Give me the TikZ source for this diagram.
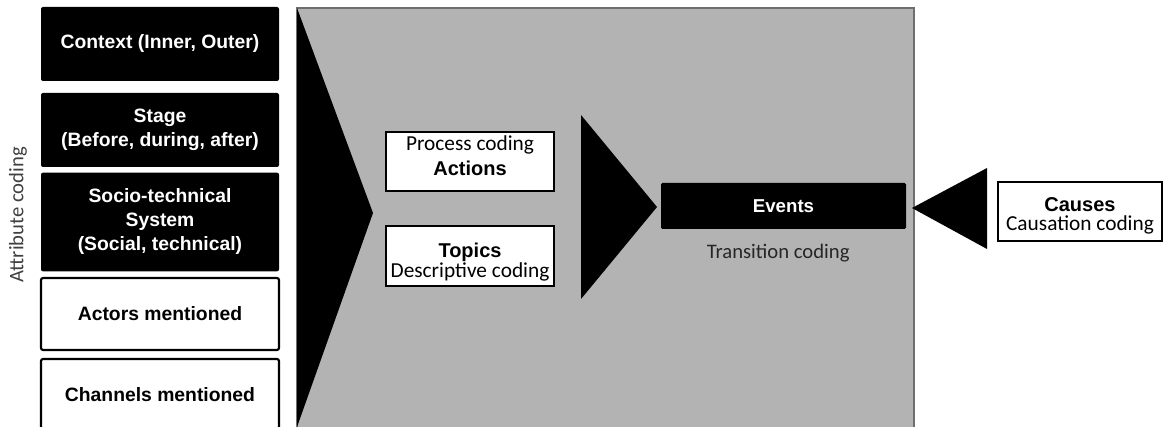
\documentclass[tikz,border=0pt]{standalone}
\usepackage{fontspec}
\setmainfont{Liberation Sans}
\newfontfamily\lightfont{Carlito}
\usetikzlibrary{positioning}
\definecolor{panelgray}{HTML}{B3B3B3}
\definecolor{framegray}{HTML}{6E6E6E}
\definecolor{labelgray}{HTML}{404040}

\begin{document}
\begin{tikzpicture}[x=0.75pt, y=-0.75pt,
    attrbox/.style={rectangle, rounded corners=1.5pt, fill=black, text=white, align=center,
        minimum width=178.5pt, font=\fontsize{14.5}{18}\selectfont\bfseries, inner sep=0pt},
    attrwhite/.style={attrbox, fill=white, text=black, draw=black, line width=1.6pt},
    codebox/.style={rectangle, draw=black, fill=white, line width=1.4pt, inner sep=0pt},
    codetext/.style={align=center, inner sep=0pt, font=\fontsize{15}{18}\selectfont},
    lightlbl/.style={font=\fontsize{15.5}{18}\selectfont\lightfont, text=labelgray, inner sep=0pt}]
    \useasboundingbox (0,0) rectangle (1174,427);

    % Coding panel
    \draw[fill=panelgray, draw=framegray, line width=1.3pt] (297,8) rectangle (914,445);
    \fill[black] (297,8) -- (373,213) -- (297,427) -- cycle;

    % Attribute boxes
    \node[attrbox, minimum height=55.5pt] (context) at (160,44) {Context (Inner, Outer)};
    \node[attrbox, minimum height=55.5pt] (stage) at (160,130) {Stage\\(Before, during, after)};
    \node[attrbox, minimum height=74pt] (socio) at (160,222) {Socio-technical\\System\\(Social, technical)};
    \node[attrwhite, minimum height=54pt] (actors) at (160,314) {Actors mentioned};
    \node[attrwhite, minimum height=54pt] (channels) at (160,395) {Channels mentioned};
    \node[lightlbl, rotate=90] (attrlbl) at (18,215) {Attribute coding};

    % Process and topics
    \node[codebox, minimum width=126pt, minimum height=44pt] (process) at (470,161.5) {};
    \node[codetext, font=\fontsize{15}{19}\selectfont] (processtxt) at ([yshift=4.5pt]process.center)
        {{\lightfont\fontsize{16}{19}\selectfont Process coding}\\{\bfseries Actions}};
    \node[codebox, minimum width=126pt, minimum height=45pt] (topics) at (470,256) {};
    \node[codetext] (topicstxt) at ([yshift=-4.5pt]topics.center)
        {{\bfseries Topics}\\[-3.5pt]{\lightfont\fontsize{16}{19}\selectfont Descriptive coding}};
    \fill[black] (581,115) -- (657,207) -- (581,299) -- cycle;

    % Events
    \node[attrbox, minimum width=183.75pt, minimum height=34.5pt, rounded corners=1pt,
        font=\fontsize{14}{17}\selectfont\bfseries] (events) at (783.5,206) {Events};
    \node[lightlbl, text=black!85, below=11pt of events, xshift=-4pt] (transition) {Transition coding};

    % Causes
    \fill[black] (912,208) -- (987,168) -- (987,249) -- cycle;
    \node[codebox, minimum width=123pt, minimum height=44pt] (causes) at (1080,211.5) {};
    \node[codetext] (causestxt) at ([yshift=-3.5pt]causes.center)
        {{\bfseries Causes}\\[-4pt]{\lightfont\fontsize{16}{19}\selectfont Causation coding}};
\end{tikzpicture}
\end{document}
